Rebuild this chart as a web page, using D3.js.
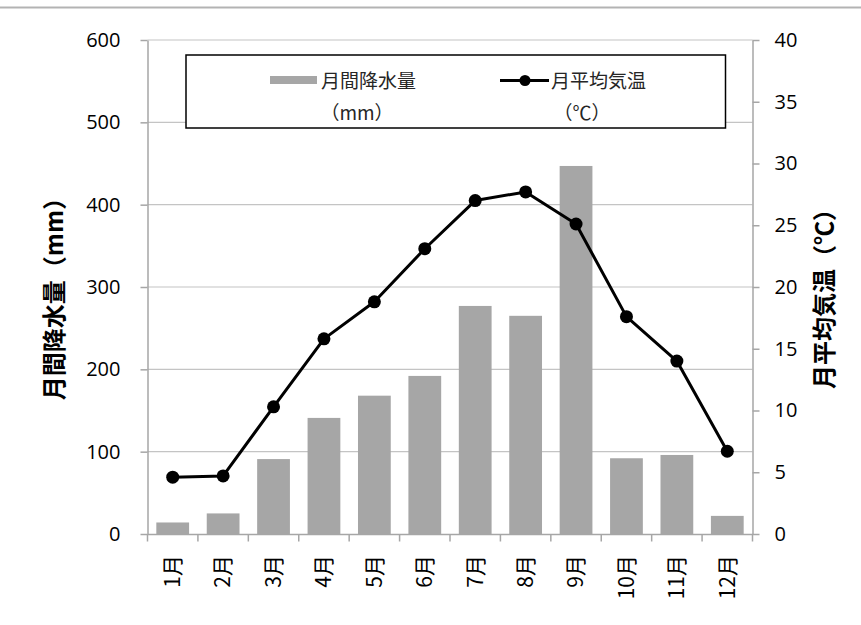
<!DOCTYPE html>
<html>
<head>
<meta charset="utf-8">
<script src="https://cdn.jsdelivr.net/npm/d3@7"></script>
<style>
  html, body { margin: 0; padding: 0; background: #fff; }
  svg { display: block; }
</style>
</head>
<body>
<svg id="chart" width="861" height="625"></svg>
<script>
// Monthly precipitation (mm) and mean temperature (°C)
const months = ["1月","2月","3月","4月","5月","6月","7月","8月","9月","10月","11月","12月"];
const precipitation = [14, 25, 91, 141, 168, 192, 277, 265, 447, 92, 96, 22];
const temperature = [4.6, 4.7, 10.3, 15.8, 18.8, 23.1, 27.0, 27.7, 25.1, 17.6, 14.0, 6.7];
const leftTicks = [0, 100, 200, 300, 400, 500, 600];
const rightTicks = [0, 5, 10, 15, 20, 25, 30, 35, 40];
const legendLabels = ["月間降水量", "月平均気温"];
const legendUnits = ["（mm）", "（℃）"];
const leftTitle = "月間降水量（mm）";
const rightTitle = "月平均気温（℃）";

const svg = d3.select("#chart");
const W = 861, H = 625;
const plot = { left: 147.5, right: 752.5, top: 40, bottom: 534 };

const numFont = "'Open Sans', 'Noto Sans', sans-serif";
const jpFont = "'Noto Sans CJK JP', 'Noto Sans', sans-serif";

// top rule
svg.append("line")
  .attr("x1", 0).attr("x2", W).attr("y1", 7.5).attr("y2", 7.5)
  .attr("stroke", "#b3b3b3").attr("stroke-width", 2);

const x = d3.scaleBand().domain(months).range([plot.left, plot.right])
  .paddingInner(0.35).paddingOuter(0.175);
const yL = d3.scaleLinear().domain([0, 600]).range([plot.bottom, plot.top]);
const yR = d3.scaleLinear().domain([0, 40]).range([plot.bottom, plot.top]);

// horizontal gridlines
svg.append("g").selectAll("line").data(leftTicks.slice(1)).join("line")
  .attr("x1", plot.left).attr("x2", plot.right)
  .attr("y1", d => yL(d)).attr("y2", d => yL(d))
  .attr("stroke", "#c4c4c4").attr("stroke-width", 1.2);

// bars
svg.append("g").selectAll("rect").data(precipitation).join("rect")
  .attr("x", (d, i) => x(months[i]))
  .attr("y", d => yL(d))
  .attr("width", x.bandwidth())
  .attr("height", d => yL(0) - yL(d))
  .attr("fill", "#a6a6a6");

// left axis
const axL = svg.append("g").attr("transform", `translate(${plot.left},0)`)
  .call(d3.axisLeft(yL).tickValues(leftTicks).tickSize(7).tickPadding(20).tickSizeOuter(0));
// right axis
const axR = svg.append("g").attr("transform", `translate(${plot.right},0)`)
  .call(d3.axisRight(yR).tickValues(rightTicks).tickSize(7).tickPadding(15).tickSizeOuter(0));
[axL, axR].forEach(g => {
  g.select(".domain").attr("stroke", "#a6a6a6").attr("stroke-width", 1.5);
  g.selectAll(".tick line").attr("stroke", "#a6a6a6").attr("stroke-width", 1.5);
  g.selectAll(".tick text").attr("font-family", numFont).attr("font-size", 20)
    .attr("fill", "#000");
});

// bottom axis: labels at band centres, ticks at band boundaries
const axB = svg.append("g").attr("transform", `translate(0,${plot.bottom})`)
  .call(d3.axisBottom(x).tickSize(0).tickSizeOuter(0));
axB.select(".domain").attr("stroke", "#a6a6a6").attr("stroke-width", 1.5);
axB.selectAll(".tick text")
  .attr("transform", "rotate(-90)")
  .attr("x", -21).attr("y", 0).attr("dy", "0.35em")
  .attr("text-anchor", "end")
  .attr("font-family", jpFont).attr("font-size", 21).attr("fill", "#000");
const half = x.step() * x.paddingInner() / 2;
const bounds = months.map(m => x(m) - half).concat([x(months[months.length - 1]) + x.bandwidth() + half]);
axB.selectAll("line.bt").data(bounds).join("line").attr("class", "bt")
  .attr("x1", d => d).attr("x2", d => d).attr("y1", 0).attr("y2", 7.5)
  .attr("stroke", "#a6a6a6").attr("stroke-width", 1.5);

// temperature line
const cx = i => x(months[i]) + x.bandwidth() / 2;
const line = d3.line().x((d, i) => cx(i)).y(d => yR(d));
svg.append("path").datum(temperature)
  .attr("d", line).attr("fill", "none")
  .attr("stroke", "#000").attr("stroke-width", 3).attr("stroke-linejoin", "round");
svg.append("g").selectAll("circle").data(temperature).join("circle")
  .attr("cx", (d, i) => cx(i)).attr("cy", d => yR(d)).attr("r", 6.5).attr("fill", "#000");

// legend
const lg = svg.append("g");
lg.append("rect").attr("x", 186).attr("y", 55).attr("width", 539.5).attr("height", 73)
  .attr("fill", "#fff").attr("stroke", "#000").attr("stroke-width", 1.5);
lg.append("rect").attr("x", 270).attr("y", 76).attr("width", 47).attr("height", 8).attr("fill", "#a6a6a6");
lg.append("line").attr("x1", 500).attr("x2", 549).attr("y1", 80.5).attr("y2", 80.5)
  .attr("stroke", "#000").attr("stroke-width", 3);
lg.append("circle").attr("cx", 525).attr("cy", 80.5).attr("r", 5.5).attr("fill", "#000");
[[321, legendLabels[0]], [551, legendLabels[1]]].forEach(([lx, t]) => {
  lg.append("text").attr("x", lx).attr("y", 81).attr("dy", "0.35em")
    .attr("font-family", jpFont).attr("font-size", 19).attr("fill", "#262626").text(t);
});
[[357, legendUnits[0]], [582, legendUnits[1]]].forEach(([lx, t]) => {
  lg.append("text").attr("x", lx).attr("y", 113).attr("dy", "0.35em").attr("text-anchor", "middle")
    .attr("font-family", jpFont).attr("font-size", 19).attr("fill", "#262626").text(t);
});

// axis titles
svg.append("text").attr("transform", "translate(55,293) rotate(-90)")
  .attr("text-anchor", "middle").attr("dy", "0.35em")
  .attr("font-family", jpFont).attr("font-weight", "bold").attr("font-size", 24)
  .attr("fill", "#000").text(leftTitle);
svg.append("text").attr("transform", "translate(825,293) rotate(-90)")
  .attr("text-anchor", "middle").attr("dy", "0.35em")
  .attr("font-family", jpFont).attr("font-weight", "bold").attr("font-size", 24)
  .attr("fill", "#000").text(rightTitle);
</script>
</body>
</html>
